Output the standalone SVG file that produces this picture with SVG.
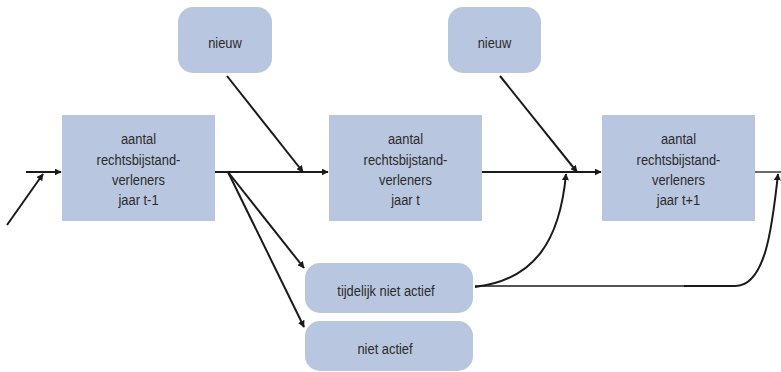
<svg xmlns="http://www.w3.org/2000/svg" width="781" height="372" viewBox="0 0 781 372">
<style>
.box{fill:#b9c6df;}
.t{font-family:"Liberation Sans",Arial,sans-serif;font-size:15px;fill:#2b2b2b;text-anchor:middle;}
.c{fill:none;stroke:#1a1a1a;stroke-width:2;}
.thin{fill:none;stroke:#1a1a1a;stroke-width:1.3;}
</style>
<defs>
<marker id="ah" viewBox="0 0 10 10" refX="9" refY="5" markerWidth="7" markerHeight="7" orient="auto" markerUnits="userSpaceOnUse">
<path d="M0,0 L10,5 L0,10 z" fill="#1a1a1a"/>
</marker>
</defs>
<g id="n1"><rect class="box" x="62" y="115" width="153" height="106"/>
<g transform="translate(138.5,0) scale(0.86,1)"><text class="t" x="0" y="144">aantal</text><text class="t" x="0" y="165">rechtsbijstand-</text><text class="t" x="0" y="185">verleners</text><text class="t" x="0" y="205">jaar t-1</text></g></g>
<g id="n2"><rect class="box" x="329" y="115" width="153" height="106"/>
<g transform="translate(405.5,0) scale(0.86,1)"><text class="t" x="0" y="144">aantal</text><text class="t" x="0" y="165">rechtsbijstand-</text><text class="t" x="0" y="185">verleners</text><text class="t" x="0" y="205">jaar t</text></g></g>
<g id="n3"><rect class="box" x="602" y="115" width="153" height="106"/>
<g transform="translate(678.5,0) scale(0.86,1)"><text class="t" x="0" y="144">aantal</text><text class="t" x="0" y="165">rechtsbijstand-</text><text class="t" x="0" y="185">verleners</text><text class="t" x="0" y="205">jaar t+1</text></g></g>
<g id="nieuw1"><rect class="box" x="178" y="7" width="94" height="66" rx="15"/><text class="t" transform="translate(225,48) scale(0.86,1)" x="0" y="0">nieuw</text></g>
<g id="nieuw2"><rect class="box" x="448" y="7" width="93" height="66" rx="15"/><text class="t" transform="translate(494.5,48) scale(0.86,1)" x="0" y="0">nieuw</text></g>
<g id="tijdelijk"><rect class="box" x="305" y="263" width="168" height="50" rx="15"/><text class="t" transform="translate(386,296) scale(0.86,1)" x="0" y="0">tijdelijk niet actief</text></g>
<g id="nietactief"><rect class="box" x="305" y="321" width="168" height="50" rx="15"/><text class="t" transform="translate(385,354) scale(0.86,1)" x="0" y="0">niet actief</text></g>
<g id="connectors">
<line class="c" x1="26" y1="172" x2="61" y2="172" marker-end="url(#ah)"/>
<line class="c" x1="7" y1="225" x2="43" y2="174" marker-end="url(#ah)"/>
<line class="c" x1="215" y1="172" x2="328" y2="172" marker-end="url(#ah)"/>
<line class="c" x1="227" y1="76" x2="303" y2="172" marker-end="url(#ah)"/>
<line class="c" x1="228" y1="172" x2="304" y2="268" marker-end="url(#ah)"/>
<line class="c" x1="228" y1="172" x2="304" y2="327" marker-end="url(#ah)"/>
<line class="c" x1="482" y1="172" x2="601" y2="172" marker-end="url(#ah)"/>
<line class="c" x1="500" y1="76" x2="577" y2="172" marker-end="url(#ah)"/>
<path class="c" d="M475,287 C535,280 560,240 566,174" marker-end="url(#ah)"/>
<path class="thin" d="M475,286 L735,286"/>
<path class="c" d="M684,286 L735,286 C765,286 772,230 778,174" marker-end="url(#ah)"/>
<line class="thin" x1="755" y1="172" x2="781" y2="172"/>
</g>
</svg>
